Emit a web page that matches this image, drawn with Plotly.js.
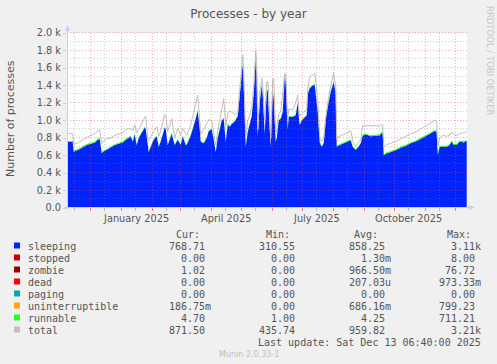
<!DOCTYPE html>
<html><head><meta charset="utf-8">
<script src="https://cdn.plot.ly/plotly-3.0.1.min.js"></script>
<style>html,body{margin:0;padding:0;background:#f0f0f0;}#chart{width:497px;height:364px;}</style>
</head><body><div id="chart"></div>
<script>
// ---- data (daily readings) ----
const dates = [
'2024-11-08','2024-11-12','2024-11-14','2024-11-15','2024-11-16','2024-11-20','2024-11-24','2024-11-28','2024-12-02','2024-12-06',
'2024-12-09','2024-12-11','2024-12-13','2024-12-14','2024-12-18','2024-12-22','2024-12-26','2024-12-30','2025-01-03','2025-01-07',
'2025-01-09','2025-01-11','2025-01-13','2025-01-15','2025-01-17','2025-01-19','2025-01-22','2025-01-25','2025-01-26','2025-01-28',
'2025-01-29','2025-01-31','2025-02-03','2025-02-06','2025-02-08','2025-02-10','2025-02-12','2025-02-14','2025-02-15','2025-02-17',
'2025-02-21','2025-02-24','2025-02-27','2025-03-02','2025-03-04','2025-03-07','2025-03-08','2025-03-12','2025-03-16','2025-03-19',
'2025-03-21','2025-03-22','2025-03-25','2025-03-28','2025-03-30','2025-04-02','2025-04-04','2025-04-06','2025-04-08','2025-04-12',
'2025-04-14','2025-04-16','2025-04-18','2025-04-20','2025-04-22','2025-04-25','2025-04-28','2025-04-30','2025-05-02','2025-05-03',
'2025-05-04','2025-05-06','2025-05-08','2025-05-10','2025-05-12','2025-05-14','2025-05-16','2025-05-17','2025-05-18','2025-05-20',
'2025-05-22','2025-05-23','2025-05-25','2025-05-27','2025-05-28','2025-05-29','2025-05-31','2025-06-02','2025-06-03','2025-06-05',
'2025-06-06','2025-06-08','2025-06-10','2025-06-12','2025-06-14','2025-06-15','2025-06-17','2025-06-18','2025-06-22','2025-06-25',
'2025-06-27','2025-06-28','2025-06-29','2025-07-01','2025-07-04','2025-07-06','2025-07-07','2025-07-09','2025-07-12','2025-07-14',
'2025-07-15','2025-07-17','2025-07-19','2025-07-21','2025-07-23','2025-07-25','2025-07-27','2025-07-30','2025-08-02','2025-08-04',
'2025-08-05','2025-08-06','2025-08-10','2025-08-14','2025-08-19','2025-08-21','2025-08-24','2025-08-27','2025-08-29','2025-08-31',
'2025-09-03','2025-09-08','2025-09-13','2025-09-17','2025-09-19','2025-09-20','2025-09-21','2025-09-23','2025-09-28','2025-10-03',
'2025-10-08','2025-10-13','2025-10-18','2025-10-23','2025-10-28','2025-11-01','2025-11-05','2025-11-08','2025-11-11','2025-11-13',
'2025-11-14','2025-11-16','2025-11-19','2025-11-23','2025-11-26','2025-11-28','2025-11-30','2025-12-03','2025-12-06','2025-12-10',
'2025-12-13'];

const sleeping = [
758,760,755,640,650,665,690,720,735,745,
780,790,630,640,665,690,720,735,750,790,
800,820,760,840,720,800,860,920,900,700,
640,700,780,820,700,760,850,920,900,720,
850,720,780,720,820,720,720,830,980,1110,
900,758,740,800,880,900,780,640,800,1000,
1020,758,950,930,960,990,1050,1300,1600,1640,
1400,700,870,950,1050,1300,1700,1500,820,1200,
1400,1300,850,1330,1350,1100,700,1330,1250,758,
800,1000,1020,1100,1500,1450,900,1040,1040,1060,
1200,1050,950,1000,1040,1060,1300,1370,1400,1410,
1300,1100,750,700,740,1000,1150,1330,1440,1300,
700,710,730,750,775,700,665,700,740,830,
840,820,830,830,860,850,600,620,640,660,
690,710,740,760,790,820,840,860,880,870,
610,700,700,700,720,760,720,720,760,750,
769];

const runnable = [
12,12,12,14,14,14,14,12,12,12,
12,12,12,12,10,10,10,10,10,10,
10,10,10,10,10,10,10,10,10,10,
10,10,10,10,10,10,10,10,10,10,
10,10,10,10,10,10,10,10,10,10,
10,10,10,10,10,10,10,10,10,10,
10,10,20,10,10,10,10,10,10,10,
10,10,10,10,10,10,10,10,10,10,
10,10,10,10,10,10,10,10,10,10,
10,10,10,10,10,10,10,10,10,10,
10,10,10,10,10,10,10,10,10,10,
10,10,10,10,10,10,10,10,10,10,
10,10,10,10,10,10,10,10,10,10,
12,12,12,12,12,12,12,12,12,12,
12,12,12,12,12,12,12,12,12,12,
12,12,12,12,12,12,12,12,12,12,
5];

const total = [
850,853,850,735,730,750,780,800,830,850,
880,895,740,760,790,800,830,845,860,900,
905,910,880,950,860,900,960,1040,1050,800,
770,820,880,930,820,880,980,1070,1060,870,
1020,800,910,830,910,860,830,950,1130,1290,
1000,840,900,960,1010,1000,850,720,880,1100,
1250,940,1080,1110,1090,1070,1090,1380,1700,1750,
1550,800,1000,1060,1150,1400,1800,1650,900,1290,
1480,1400,1000,1440,1450,1300,800,1470,1480,850,
900,1080,1100,1300,1540,1520,1000,1130,1120,1200,
1290,1150,1050,1080,1110,1120,1360,1500,1520,1540,
1450,1250,800,760,800,1050,1200,1400,1540,1400,
780,810,830,850,885,760,705,750,780,940,
940,935,940,940,960,950,700,720,740,760,
790,820,850,870,900,930,960,980,1000,990,
700,800,830,820,830,870,840,830,850,860,
871];

const xRange = ['2024-11-08 06:40','2025-12-13 06:40'];
const yTickVals = [0,200,400,600,800,1000,1200,1400,1600,1800,2000];
const yTickText = ['0.0','0.2 k','0.4 k','0.6 k','0.8 k','1.0 k','1.2 k','1.4 k','1.6 k','1.8 k','2.0 k'];
const yMinorVals = [100,300,500,700,900,1100,1300,1500,1700,1900];
const monthStarts = ['2024-12-01','2025-01-01','2025-02-01','2025-03-01','2025-04-01','2025-05-01','2025-06-01',
  '2025-07-01','2025-08-01','2025-09-01','2025-10-01','2025-11-01','2025-12-01'];
const midMonths = ['2024-11-15','2024-12-15','2025-01-15','2025-02-15','2025-03-15','2025-04-15','2025-05-15',
  '2025-06-15','2025-07-15','2025-08-15','2025-09-15','2025-10-15','2025-11-15'];
const xLabelDates = ['2025-01-16','2025-04-16','2025-07-16','2025-10-16'];
const xLabelText = ['January 2025','April 2025','July 2025','October 2025'];

const seriesNames = ['sleeping','stopped','zombie','dead','paging','uninterruptible','runnable','total'];
const seriesColors = ['#0022ff','#cc0000','#990000','#ff0000','#00aaaa','#ffaa00','#22ff22','#c0c0c0'];
const curVals = ['768.71','0.00','1.02','0.00','0.00','186.75m','4.70','871.50'];
const minVals = ['310.55','0.00','0.00','0.00','0.00','0.00','1.00','435.74'];
const avgVals = ['858.25','1.30m','966.50m','207.03u','0.00','686.16m','4.25','959.82'];
const maxVals = ['3.11k','8.00','76.72','973.33m','0.00','799.23','711.21','3.21k'];
const colHeads = ['Cur:','Min:','Avg:','Max:'];

// ---- geometry helpers (pixel -> paper) ----
const PL=67, PR=467, PT=33, PB=208;
const px = x => (x-PL)/(PR-PL);
const py = y => (PB-y)/(PB-PT);
const t0 = new Date(xRange[0].replace(' ','T')+'Z').getTime();
const t1 = new Date(xRange[1].replace(' ','T')+'Z').getTime();
// snapped grid positions (crisp 1px lines), derived from the axis scales
const gx = d => px(Math.round(PL + (new Date(d+'T00:00:00Z').getTime()-t0)/(t1-t0)*(PR-PL)) + 0.5);
const gy = v => py(Math.round(PB - v/2000*(PB-PT)) - 0.5);

const traces = [
  {x:dates, y:sleeping, type:'scatter', mode:'lines', stackgroup:'s', line:{width:0,color:seriesColors[0]}, fillcolor:seriesColors[0], hoverinfo:'skip'},
  {x:dates, y:runnable, type:'scatter', mode:'lines', stackgroup:'s', line:{width:0,color:seriesColors[6]}, fillcolor:seriesColors[6], hoverinfo:'skip'},
  {x:dates, y:total, type:'scatter', mode:'lines', line:{width:1,color:seriesColors[7]}, hoverinfo:'skip'}
];

const shapes = [];
const MAJ = 'rgba(240,70,70,0.45)', MIN = 'rgba(120,120,120,0.38)', DASH='1px,2px';
yMinorVals.forEach(v => shapes.push({type:'line', layer:'above', xref:'paper', x0:0, x1:1, yref:'paper', y0:gy(v), y1:gy(v), line:{color:MIN,width:1,dash:DASH}}));
yTickVals.slice(1).forEach(v => shapes.push({type:'line', layer:'above', xref:'paper', x0:0, x1:1, yref:'paper', y0:gy(v), y1:gy(v), line:{color:MAJ,width:1,dash:DASH}}));
midMonths.forEach(d => {
  shapes.push({type:'line', layer:'above', xref:'paper', x0:gx(d), x1:gx(d), yref:'paper', y0:0, y1:1, line:{color:MIN,width:1,dash:DASH}});
  shapes.push({type:'line', layer:'above', xref:'paper', x0:gx(d), x1:gx(d), yref:'paper', y0:py(211), y1:0, line:{color:'rgba(150,150,150,0.6)',width:1}});
});
monthStarts.forEach(d => {
  shapes.push({type:'line', layer:'above', xref:'paper', x0:gx(d), x1:gx(d), yref:'paper', y0:0, y1:1, line:{color:MAJ,width:1,dash:DASH}});
  shapes.push({type:'line', layer:'above', xref:'paper', x0:gx(d), x1:gx(d), yref:'paper', y0:py(211), y1:0, line:{color:'rgba(235,90,90,0.8)',width:1}});
});
const AX = '#c8ccf4';
shapes.push({type:'line', layer:'above', xref:'paper', yref:'paper', x0:px(67.5), x1:px(67.5), y0:py(210), y1:py(29), line:{color:AX,width:1}});
shapes.push({type:'line', layer:'above', xref:'paper', yref:'paper', x0:px(64), x1:px(469), y0:py(207.5), y1:py(207.5), line:{color:AX,width:1}});
shapes.push({type:'path', layer:'above', xref:'paper', yref:'paper', fillcolor:AX, line:{width:0},
  path:`M ${px(65)},${py(31)} L ${px(70)},${py(31)} L ${px(67.5)},${py(25)} Z`});
shapes.push({type:'path', layer:'above', xref:'paper', yref:'paper', fillcolor:AX, line:{width:0},
  path:`M ${px(469)},${py(205)} L ${px(469)},${py(210)} L ${px(475)},${py(207.5)} Z`});

const annotations = [];
const F = 'DejaVu Sans', FM = 'DejaVu Sans Mono', TC = '#555555';
xLabelDates.forEach((d,i) => annotations.push({xref:'x', x:d, yref:'paper', y:py(218), text:xLabelText[i], showarrow:false,
  xanchor:'center', yanchor:'middle', font:{family:F,size:9.8,color:TC}}));
annotations.push({xref:'paper', x:px(10), yref:'paper', y:py(119), text:'Number of processes', textangle:-90, showarrow:false,
  xanchor:'center', yanchor:'middle', font:{family:F,size:11,color:TC}});
annotations.push({xref:'paper', x:px(490), yref:'paper', y:py(61), text:'RRDTOOL / TOBI OETIKER', textangle:90, showarrow:false,
  xanchor:'center', yanchor:'middle', font:{family:F,size:8.5,color:'#c8c8c8'}});

const headX = [187.5, 278, 366, 458.5];
colHeads.forEach((h,i) => annotations.push({xref:'paper', x:px(headX[i]), yref:'paper', y:py(234.5), text:h, showarrow:false,
  xanchor:'center', yanchor:'middle', font:{family:FM,size:10,color:TC}}));
const colRight = [212.5, 302.8, 393.2, 483];
const cols = [curVals, minVals, avgVals, maxVals];
const NB = '\u00a0';
seriesNames.forEach((n,i) => {
  const yc = 246.5 + 12*i;
  shapes.push({type:'rect', layer:'above', xref:'paper', yref:'paper', x0:px(14), x1:px(20), y0:py(yc-4), y1:py(yc+2),
    fillcolor:seriesColors[i], line:{width:0}});
  annotations.push({xref:'paper', x:px(26), yref:'paper', y:py(yc), text:n, showarrow:false,
    xanchor:'left', yanchor:'middle', font:{family:FM,size:10,color:TC}});
  cols.forEach((c,j) => {
    let t = c[i]; if (/[0-9]$/.test(t)) t += NB;
    annotations.push({xref:'paper', x:px(colRight[j]), yref:'paper', y:py(yc), text:t, showarrow:false,
      xanchor:'right', yanchor:'middle', font:{family:FM,size:10,color:TC}});
  });
});
annotations.push({xref:'paper', x:px(483), yref:'paper', y:py(342.5), text:'Last update:' + NB + 'Sat Dec 13 06:40:00 2025', showarrow:false,
  xanchor:'right', yanchor:'middle', font:{family:FM,size:10,color:TC}});
annotations.push({xref:'paper', x:px(248.5), yref:'paper', y:py(354), text:'Munin 2.0.33-1', showarrow:false,
  xanchor:'center', yanchor:'middle', font:{family:F,size:8,color:'#c0c0c0'}});

const layout = {
  width:497, height:364,
  margin:{l:67, r:30, t:33, b:156, pad:0},
  paper_bgcolor:'#f0f0f0', plot_bgcolor:'#ffffff',
  showlegend:false,
  title:{text:'Processes - by year', font:{family:F,size:12,color:TC}, x:0.5, xref:'container', xanchor:'center',
    y:1-14/364, yref:'container', yanchor:'middle'},
  xaxis:{type:'date', range:xRange, showgrid:false, showticklabels:false, ticks:'', zeroline:false, showline:false, automargin:false, fixedrange:true},
  yaxis:{range:[0,2000], tickmode:'array', tickvals:yTickVals, ticktext:yTickText, showgrid:false, zeroline:false, showline:false,
    ticks:'outside', ticklen:3, tickcolor:AX, tickfont:{family:F,size:9.8,color:TC}, automargin:false, fixedrange:true},
  shapes:shapes, annotations:annotations
};
Plotly.newPlot('chart', traces, layout, {staticPlot:true, displayModeBar:false});
</script></body></html>
